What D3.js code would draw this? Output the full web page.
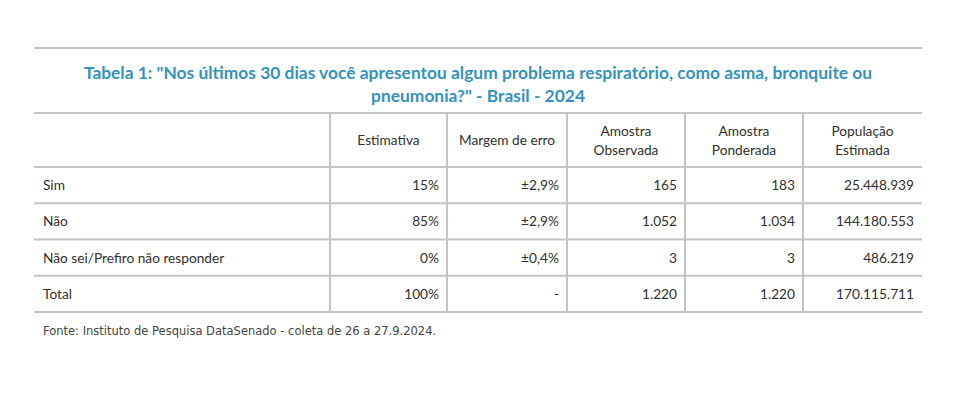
<!DOCTYPE html>
<html>
<head>
<meta charset="utf-8">
<script src="https://cdn.jsdelivr.net/npm/d3@7"></script>
<style>
  body { margin: 0; background: #fff; }
  svg text { font-family: Lato, "Open Sans", sans-serif; }
</style>
</head>
<body>
<div id="chart"></div>
<script>
var titleLines = ['Tabela 1: "Nos últimos 30 dias você apresentou algum problema respiratório, como asma, bronquite ou',
                  'pneumonia?" - Brasil - 2024'];
var headers = [[""], ["Estimativa"], ["Margem de erro"], ["Amostra", "Observada"], ["Amostra", "Ponderada"], ["População", "Estimada"]];
var categories = ["Sim", "Não", "Não sei/Prefiro não responder", "Total"];
var estimativa = ["15%", "85%", "0%", "100%"];
var margem = ["±2,9%", "±2,9%", "±0,4%", "-"];
var amostraObs = ["165", "1.052", "3", "1.220"];
var amostraPond = ["183", "1.034", "3", "1.220"];
var populacao = ["25.448.939", "144.180.553", "486.219", "170.115.711"];
var fonte = "Fonte: Instituto de Pesquisa DataSenado - coleta de 26 a 27.9.2024.";

var width = 960, height = 414;
var svg = d3.select("#chart").append("svg").attr("width", width).attr("height", height);

var left = 34, right = 922;
var colEdges = [left, 330, 447, 567, 685, 803, right];
var lineColor = "#c4c4c4";
var textColor = "#2f2f2f";

var columns = [categories, estimativa, margem, amostraObs, amostraPond, populacao];

// header row + body rows
var headTop = 113, headBottom = 167;
var y = d3.scaleBand().domain(d3.range(categories.length)).range([headBottom, 312]);

// top rule
svg.append("line").attr("x1", left).attr("x2", right).attr("y1", 48).attr("y2", 48)
  .attr("stroke", lineColor).attr("stroke-width", 2);

// title
svg.selectAll("text.title").data(titleLines).enter().append("text")
  .attr("class", "title")
  .attr("x", (left + right) / 2)
  .attr("y", function(d, i){ return 79 + i * 23; })
  .attr("text-anchor", "middle")
  .attr("font-size", 17.4)
  .attr("font-weight", "bold")
  .attr("fill", "#3592bc")
  .text(function(d){ return d; });

// horizontal rules
var hLines = [headTop, headBottom].concat(categories.map(function(d, i){ return y(i) + y.bandwidth(); }));
svg.selectAll("line.h").data(hLines).enter().append("line")
  .attr("class", "h")
  .attr("x1", left).attr("x2", right)
  .attr("y1", function(d){ return d; }).attr("y2", function(d){ return d; })
  .attr("stroke", lineColor).attr("stroke-width", 2);

// vertical rules
svg.selectAll("line.v").data(colEdges.slice(1, -1)).enter().append("line")
  .attr("class", "v")
  .attr("x1", function(d){ return d; }).attr("x2", function(d){ return d; })
  .attr("y1", headTop).attr("y2", 312)
  .attr("stroke", lineColor).attr("stroke-width", 2);

// headers
headers.forEach(function(lines, c){
  var cx = (colEdges[c] + colEdges[c + 1]) / 2;
  var mid = (headTop + headBottom) / 2 + 5;
  svg.selectAll(null).data(lines).enter().append("text")
    .attr("x", cx)
    .attr("y", function(d, i){ return mid + (i - (lines.length - 1) / 2) * 19; })
    .attr("text-anchor", "middle")
    .attr("font-size", 13.7)
    .attr("fill", textColor)
    .text(function(d){ return d; });
});

// body cells
columns.forEach(function(vals, c){
  svg.selectAll(null).data(vals).enter().append("text")
    .attr("x", c === 0 ? colEdges[0] + 9 : colEdges[c + 1] - 8)
    .attr("y", function(d, i){ return y(i) + y.bandwidth() / 2 + 5; })
    .attr("text-anchor", c === 0 ? "start" : "end")
    .attr("font-size", 13.7)
    .attr("fill", textColor)
    .text(function(d){ return d; });
});

// footer
svg.append("text")
  .attr("x", 43).attr("y", 335)
  .attr("font-size", 11.5)
  .attr("fill", "#444")
  .style("font-family", "'DejaVu Sans', sans-serif")
  .text(fonte);
</script>
</body>
</html>
